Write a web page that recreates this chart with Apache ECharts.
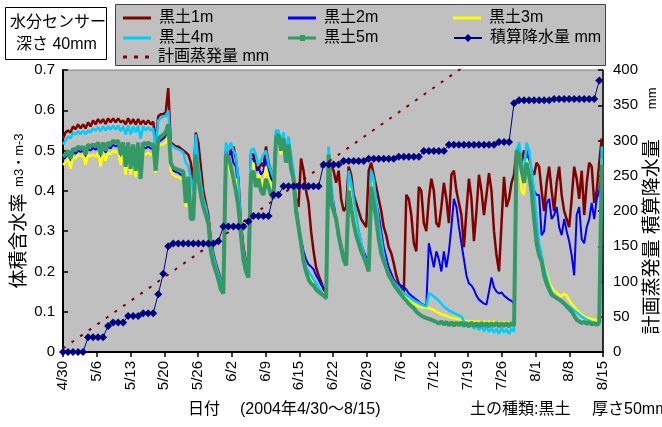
<!DOCTYPE html>
<html>
<head>
<meta charset="utf-8">
<script src="https://cdn.jsdelivr.net/npm/echarts/dist/echarts.min.js"></script>
<style>
html, body { margin: 0; padding: 0; background: #fff; }
#chart { width: 662px; height: 427px; }
</style>
</head>
<body>
<div id="chart"></div>
<script>
const FONT = '"Liberation Sans", "Noto Sans CJK JP", sans-serif';

// x-axis tick labels (16 equal steps from 4/30 to 8/15)
const tickLabels = ['4/30','5/6','5/13','5/20','5/26','6/2','6/9','6/15','6/22','6/29',
                    '7/6','7/12','7/19','7/26','8/1','8/8','8/15'];

const names = ['黒土1m','黒土2m','黒土3m','黒土4m','黒土5m','積算降水量 mm','計画蒸発量 mm'];

// volumetric water content, one reading every 12 hours from 4/30 00:00
const soil1m = [
 .53,.545,.55,.545,.56,.553,.565,.555,.565,.555,
 .57,.56,.575,.565,.578,.568,.578,.566,.58,.57,
 .58,.57,.58,.57,.575,.565,.58,.566,.578,.565,
 .578,.565,.575,.565,.575,.565,.572,.52,.585,.59,
 .59,.595,.655,.52,.515,.51,.51,.505,.50,.495,
 .49,.47,.42,.545,.52,.46,.40,.37,.34,.28,
 .245,.22,.20,.18,.17,.50,.51,.49,.51,.48,
 .43,.32,.26,.225,.21,.49,.49,.46,.45,.47,
 .46,.51,.47,.45,.42,.54,.54,.51,.53,.50,
 .52,.48,.42,.38,.36,.48,.45,.40,.37,.30,
 .25,.21,.19,.175,.155,.145,.46,.46,.45,.42,
 .45,.38,.35,.36,.46,.44,.39,.37,.35,.33,
 .32,.31,.45,.47,.44,.41,.38,.35,.31,.29,
 .26,.245,.22,.19,.17,.16,.145,.39,.38,.34,
 .27,.25,.41,.40,.32,.30,.38,.43,.40,.32,
 .31,.36,.42,.38,.32,.44,.45,.40,.37,.34,
 .26,.35,.43,.38,.275,.35,.44,.40,.34,.39,
 .444,.40,.30,.24,.20,.32,.435,.36,.38,.42,
 .44,.50,.51,.47,.50,.49,.47,.45,.44,.47,
 .46,.40,.35,.42,.46,.40,.35,.42,.46,.39,
 .35,.33,.31,.38,.46,.43,.38,.45,.34,.42,
 .47,.46,.37,.40,.47,.53
];
const soil2m = [
 .478,.483,.492,.475,.497,.492,.50,.497,.50,.485,
 .505,.50,.507,.502,.51,.485,.51,.495,.51,.505,
 .515,.51,.515,.485,.51,.455,.51,.45,.505,.445,
 .51,.43,.51,.505,.51,.505,.505,.448,.52,.525,
 .53,.535,.555,.46,.45,.447,.445,.44,.44,.365,
 .43,.33,.33,.48,.46,.41,.375,.355,.33,.265,
 .235,.21,.19,.165,.155,.50,.48,.50,.47,.46,
 .40,.30,.235,.21,.20,.48,.48,.45,.46,.44,
 .45,.48,.45,.43,.41,.54,.53,.50,.53,.48,
 .52,.47,.44,.37,.32,.28,.25,.23,.217,.212,
 .205,.19,.18,.167,.16,.15,.50,.40,.37,.33,
 .29,.265,.24,.23,.44,.41,.37,.33,.30,.27,
 .25,.235,.22,.45,.42,.37,.34,.30,.26,.235,
 .21,.195,.18,.172,.168,.165,.162,.155,.145,.14,
 .135,.13,.125,.12,.117,.115,.27,.24,.21,.25,
 .23,.20,.25,.21,.25,.31,.38,.36,.31,.27,
 .23,.19,.17,.165,.155,.14,.13,.125,.12,.118,
 .15,.185,.16,.15,.145,.148,.14,.135,.13,.127,
 .12,.49,.51,.45,.43,.50,.48,.44,.40,.39,
 .39,.29,.30,.37,.38,.33,.34,.36,.31,.29,
 .33,.30,.275,.24,.19,.34,.36,.28,.27,.31,
 .33,.37,.33,.38,.40,.45
];
const soil3m = [
 .465,.47,.48,.455,.485,.48,.49,.485,.49,.465,
 .49,.485,.49,.485,.495,.46,.495,.475,.495,.49,
 .50,.495,.50,.465,.495,.44,.495,.44,.49,.435,
 .495,.43,.495,.49,.495,.49,.49,.445,.51,.515,
 .515,.52,.54,.45,.44,.435,.435,.43,.43,.36,
 .42,.33,.33,.47,.45,.40,.37,.35,.325,.26,
 .23,.205,.185,.16,.15,.47,.47,.44,.42,.43,
 .38,.30,.235,.205,.19,.46,.47,.42,.44,.43,
 .41,.46,.43,.42,.40,.52,.53,.49,.52,.47,
 .51,.46,.44,.36,.31,.27,.23,.205,.19,.18,
 .17,.16,.155,.15,.145,.14,.50,.39,.35,.32,
 .285,.255,.23,.22,.42,.39,.35,.31,.28,.26,
 .24,.225,.21,.43,.41,.35,.30,.26,.23,.21,
 .19,.178,.165,.158,.15,.145,.14,.134,.128,.123,
 .12,.116,.113,.112,.11,.11,.109,.107,.104,.10,
 .097,.094,.092,.09,.087,.085,.084,.082,.081,.08,
 .078,.076,.077,.075,.076,.075,.076,.074,.075,.074,
 .075,.074,.075,.073,.074,.073,.074,.073,.074,.073,
 .074,.49,.50,.40,.39,.48,.46,.42,.37,.30,
 .26,.235,.215,.195,.175,.16,.152,.147,.142,.138,
 .145,.14,.128,.12,.113,.105,.098,.093,.088,.086,
 .084,.082,.08,.079,.078,.48
];
const soil4m = [
 .515,.525,.535,.53,.545,.54,.548,.54,.55,.54,
 .55,.545,.555,.55,.558,.548,.56,.55,.56,.552,
 .562,.552,.562,.548,.56,.54,.562,.54,.56,.545,
 .562,.53,.56,.55,.558,.55,.555,.50,.575,.58,
 .585,.585,.60,.515,.51,.505,.503,.50,.495,.47,
 .46,.43,.40,.54,.47,.42,.38,.36,.33,.27,
 .24,.215,.195,.175,.165,.52,.50,.52,.50,.49,
 .42,.31,.25,.22,.21,.50,.505,.49,.465,.475,
 .49,.50,.465,.45,.43,.55,.55,.52,.545,.50,
 .535,.49,.45,.37,.31,.26,.23,.21,.20,.19,
 .18,.17,.16,.15,.14,.13,.51,.42,.36,.32,
 .28,.25,.225,.22,.45,.42,.38,.34,.30,.27,
 .245,.225,.21,.45,.43,.37,.32,.28,.24,.215,
 .195,.184,.175,.167,.16,.152,.146,.142,.137,.133,
 .128,.125,.122,.118,.115,.113,.146,.143,.138,.133,
 .127,.12,.113,.108,.103,.10,.097,.094,.091,.088,
 .075,.07,.062,.07,.058,.066,.055,.064,.052,.062,
 .05,.06,.048,.058,.045,.06,.048,.057,.045,.058,
 .05,.50,.52,.47,.44,.52,.50,.45,.40,.33,
 .27,.24,.21,.185,.165,.15,.14,.135,.13,.127,
 .123,.118,.113,.108,.103,.098,.093,.088,.084,.08,
 .077,.074,.071,.069,.067,.51
];
const soil5m = [
 .485,.49,.50,.48,.505,.50,.51,.505,.51,.49,
 .515,.51,.515,.51,.52,.49,.52,.50,.52,.515,
 .525,.52,.525,.49,.52,.46,.52,.455,.515,.45,
 .52,.43,.52,.515,.52,.515,.515,.45,.53,.535,
 .54,.545,.565,.47,.457,.455,.452,.45,.448,.37,
 .435,.33,.33,.49,.43,.39,.36,.34,.32,.25,
 .22,.20,.18,.155,.145,.49,.485,.46,.43,.40,
 .36,.29,.23,.20,.185,.44,.45,.41,.43,.40,
 .39,.43,.41,.39,.38,.53,.54,.50,.53,.47,
 .515,.455,.43,.35,.31,.27,.225,.20,.18,.17,
 .165,.155,.15,.145,.14,.135,.49,.37,.35,.33,
 .29,.26,.23,.215,.40,.36,.32,.29,.27,.25,
 .235,.22,.20,.41,.37,.33,.28,.245,.225,.21,
 .19,.18,.167,.158,.15,.142,.134,.128,.12,.114,
 .109,.10,.095,.09,.087,.084,.082,.08,.077,.075,
 .07,.076,.068,.075,.066,.074,.065,.073,.066,.074,
 .064,.073,.063,.074,.064,.072,.063,.073,.064,.072,
 .063,.072,.064,.073,.063,.072,.064,.072,.063,.073,
 .065,.50,.49,.45,.42,.47,.44,.40,.33,.27,
 .24,.225,.19,.17,.155,.142,.138,.134,.13,.126,
 .12,.113,.107,.10,.09,.08,.076,.072,.075,.07,
 .074,.068,.072,.067,.075,.465
];

// cumulative rainfall (mm), one value per day from 4/30
const rainCum = [
 0,0,0,0,0,21,21,21,21,37,
 42,42,42,51,51,51,55,55,55,82,
 111,150,154,154,154,154,154,154,154,154,
 154,157,178,178,178,178,178,185,193,193,
 193,193,223,223,235,235,235,235,235,235,
 235,235,266,266,266,266,271,271,271,271,
 271,274,274,274,274,274,274,277,277,277,
 277,277,285,285,285,285,285,294,294,294,
 294,294,294,294,294,294,294,298,298,298,
 353,357,357,357,357,357,357,357,359,359,
 359,359,359,359,359,359,359,385
];

// planned evaporation (mm): start and end of the 5 mm/day plan line
const evapPlan = [[0, 5], [107, 540]];

const STEP = 0.5; // soil readings are 12 hours apart
const X_MAX = 107.75;
const X_INT = X_MAX / 16;

const soilSeries = [soil1m, soil2m, soil3m, soil4m, soil5m];
const soilColors = ['#800000', '#0000FF', '#FFFF00', '#00CCFF', '#339966'];
const soilWidths = [2.5, 2, 2.5, 2.5, 4];

const toPairs = vals => vals.map((v, i) => [i * STEP, v]);

const series = soilSeries.map((vals, k) => ({
  name: names[k],
  type: 'line',
  data: toPairs(vals),
  xAxisIndex: 0,
  yAxisIndex: 0,
  symbol: 'none',
  showSymbol: false,
  itemStyle: { color: soilColors[k] },
  lineStyle: { color: soilColors[k], width: soilWidths[k] },
  emphasis: { disabled: true },
  silent: true
}));

series.push({
  name: names[5],
  type: 'line',
  data: rainCum.map((v, i) => [i, v]),
  xAxisIndex: 0,
  yAxisIndex: 1,
  symbol: 'diamond',
  symbolSize: 8,
  showSymbol: true,
  itemStyle: { color: '#000080' },
  lineStyle: { color: '#000080', width: 1 },
  emphasis: { disabled: true },
  silent: true
});

series.push({
  name: names[6],
  type: 'line',
  data: evapPlan,
  xAxisIndex: 0,
  yAxisIndex: 1,
  symbol: 'none',
  clip: true,
  itemStyle: { color: '#800000' },
  lineStyle: { color: '#800000', width: 2, type: [3, 7.5] },
  emphasis: { disabled: true },
  silent: true
});

// legend entries laid out in a 3-column grid inside the grey key box
const keyCols = [123, 288, 453];
const keyRows = [9, 29, 48];
const keyItems = [
  { name: names[0], col: 0, row: 0, icon: 'rect', h: 3 },
  { name: names[1], col: 1, row: 0, icon: 'rect', h: 3 },
  { name: names[2], col: 2, row: 0, icon: 'rect', h: 3 },
  { name: names[3], col: 0, row: 1, icon: 'rect', h: 3 },
  { name: names[4], col: 1, row: 1, icon: 'path://M0,1.5h28v3h-28z M12,0h5v6h-5z', h: 6 },
  { name: names[5], col: 2, row: 1, icon: null, h: 10 },
  { name: names[6], col: 0, row: 2, icon: 'path://M0,0h4v3h-4z M11,0h4v3h-4z M22,0h4v3h-4z', h: 3 }
];

const legends = keyItems.map(it => ({
  orient: 'horizontal',
  left: keyCols[it.col],
  top: keyRows[it.row],
  padding: 0,
  itemWidth: 28,
  itemHeight: it.h,
  selectedMode: false,
  data: [it.icon ? { name: it.name, icon: it.icon } : { name: it.name }],
  textStyle: { fontSize: 16, color: '#000', fontFamily: FONT, lineHeight: 18, padding: [0, 0, 0, 3] }
}));

const option = {
  animation: false,
  backgroundColor: '#ffffff',
  textStyle: { fontFamily: FONT },
  grid: {
    left: 63, right: 59, top: 70, bottom: 75,
    show: true, backgroundColor: '#C0C0C0', borderColor: '#808080', borderWidth: 1,
    containLabel: false, outerBoundsMode: 'none'
  },
  xAxis: {
    type: 'value', min: 0, max: X_MAX, interval: X_INT,
    axisLine: { show: true, onZero: false, lineStyle: { color: '#000', width: 2 } },
    axisTick: { show: true, inside: false, length: 5, lineStyle: { color: '#000', width: 1.5 } },
    axisLabel: {
      show: true, rotate: 90, margin: 9, fontSize: 15, color: '#000', fontFamily: FONT,
      showMinLabel: true, showMaxLabel: true,
      formatter: v => tickLabels[Math.round(v / X_INT)] || ''
    },
    splitLine: { show: false }
  },
  yAxis: [
    {
      type: 'value', min: 0, max: 0.7, interval: 0.1, position: 'left',
      name: '{a|体積含水率}  {b|m3・m-3}',
      nameLocation: 'middle', nameGap: 34, nameRotate: 90, nameMoveOverlap: false,
      nameTextStyle: {
        color: '#000',
        rich: { a: { fontSize: 19, fontFamily: FONT, color: '#000' },
                b: { fontSize: 13, fontFamily: FONT, color: '#000' } }
      },
      axisLine: { show: true, onZero: false, lineStyle: { color: '#000', width: 2 } },
      axisTick: { show: true, inside: true, length: 5, lineStyle: { color: '#000', width: 1.5 } },
      axisLabel: { margin: 8, fontSize: 15, color: '#000', fontFamily: FONT,
                   formatter: v => (v === 0 ? '0' : v.toFixed(1)) },
      splitLine: { show: false }
    },
    {
      type: 'value', min: 0, max: 400, interval: 50, position: 'right',
      name: '{a|計画蒸発量 積算降水量}{b|mm}',
      nameLocation: 'middle', nameGap: 40, nameRotate: 90, nameMoveOverlap: false,
      nameTextStyle: {
        color: '#000',
        rich: { a: { fontSize: 19, fontFamily: FONT, color: '#000' },
                b: { fontSize: 13, fontFamily: FONT, color: '#000', padding: [0, 0, 0, 30] } }
      },
      axisLine: { show: true, onZero: false, lineStyle: { color: '#000', width: 1.5 } },
      axisTick: { show: true, inside: true, length: 5, lineStyle: { color: '#000', width: 1.5 } },
      axisLabel: { margin: 10, fontSize: 15, color: '#000', fontFamily: FONT },
      splitLine: { show: false }
    }
  ],
  legend: legends,
  graphic: [
    { type: 'rect', z: 0, shape: { x: 5.5, y: 7.5, width: 101, height: 52 },
      style: { fill: '#fff', stroke: '#000', lineWidth: 1 } },
    { type: 'text', z: 1, x: 10, y: 23,
      style: { text: '水分センサー', fontSize: 16, fontFamily: FONT, fill: '#000', verticalAlign: 'middle' } },
    { type: 'text', z: 1, x: 16, y: 45,
      style: { text: '深さ 40mm', fontSize: 16, fontFamily: FONT, fill: '#000', verticalAlign: 'middle' } },
    { type: 'rect', z: 0, shape: { x: 115.5, y: 4.5, width: 490, height: 61 },
      style: { fill: '#C0C0C0', stroke: '#404040', lineWidth: 1 } },
    { type: 'text', z: 1, x: 188, y: 410,
      style: { text: '日付', fontSize: 16, fontFamily: FONT, fill: '#000', verticalAlign: 'middle' } },
    { type: 'text', z: 1, x: 240, y: 410,
      style: { text: '(2004年4/30～8/15)', fontSize: 16, fontFamily: FONT, fill: '#000', verticalAlign: 'middle' } },
    { type: 'text', z: 1, x: 470, y: 410,
      style: { text: '土の種類:黒土', fontSize: 16, fontFamily: FONT, fill: '#000', verticalAlign: 'middle' } },
    { type: 'text', z: 1, x: 592, y: 410,
      style: { text: '厚さ50mm', fontSize: 16, fontFamily: FONT, fill: '#000', verticalAlign: 'middle' } }
  ],
  series: series
};

const chart = echarts.init(document.getElementById('chart'), null, { renderer: 'canvas' });
chart.setOption(option);
</script>
</body>
</html>
